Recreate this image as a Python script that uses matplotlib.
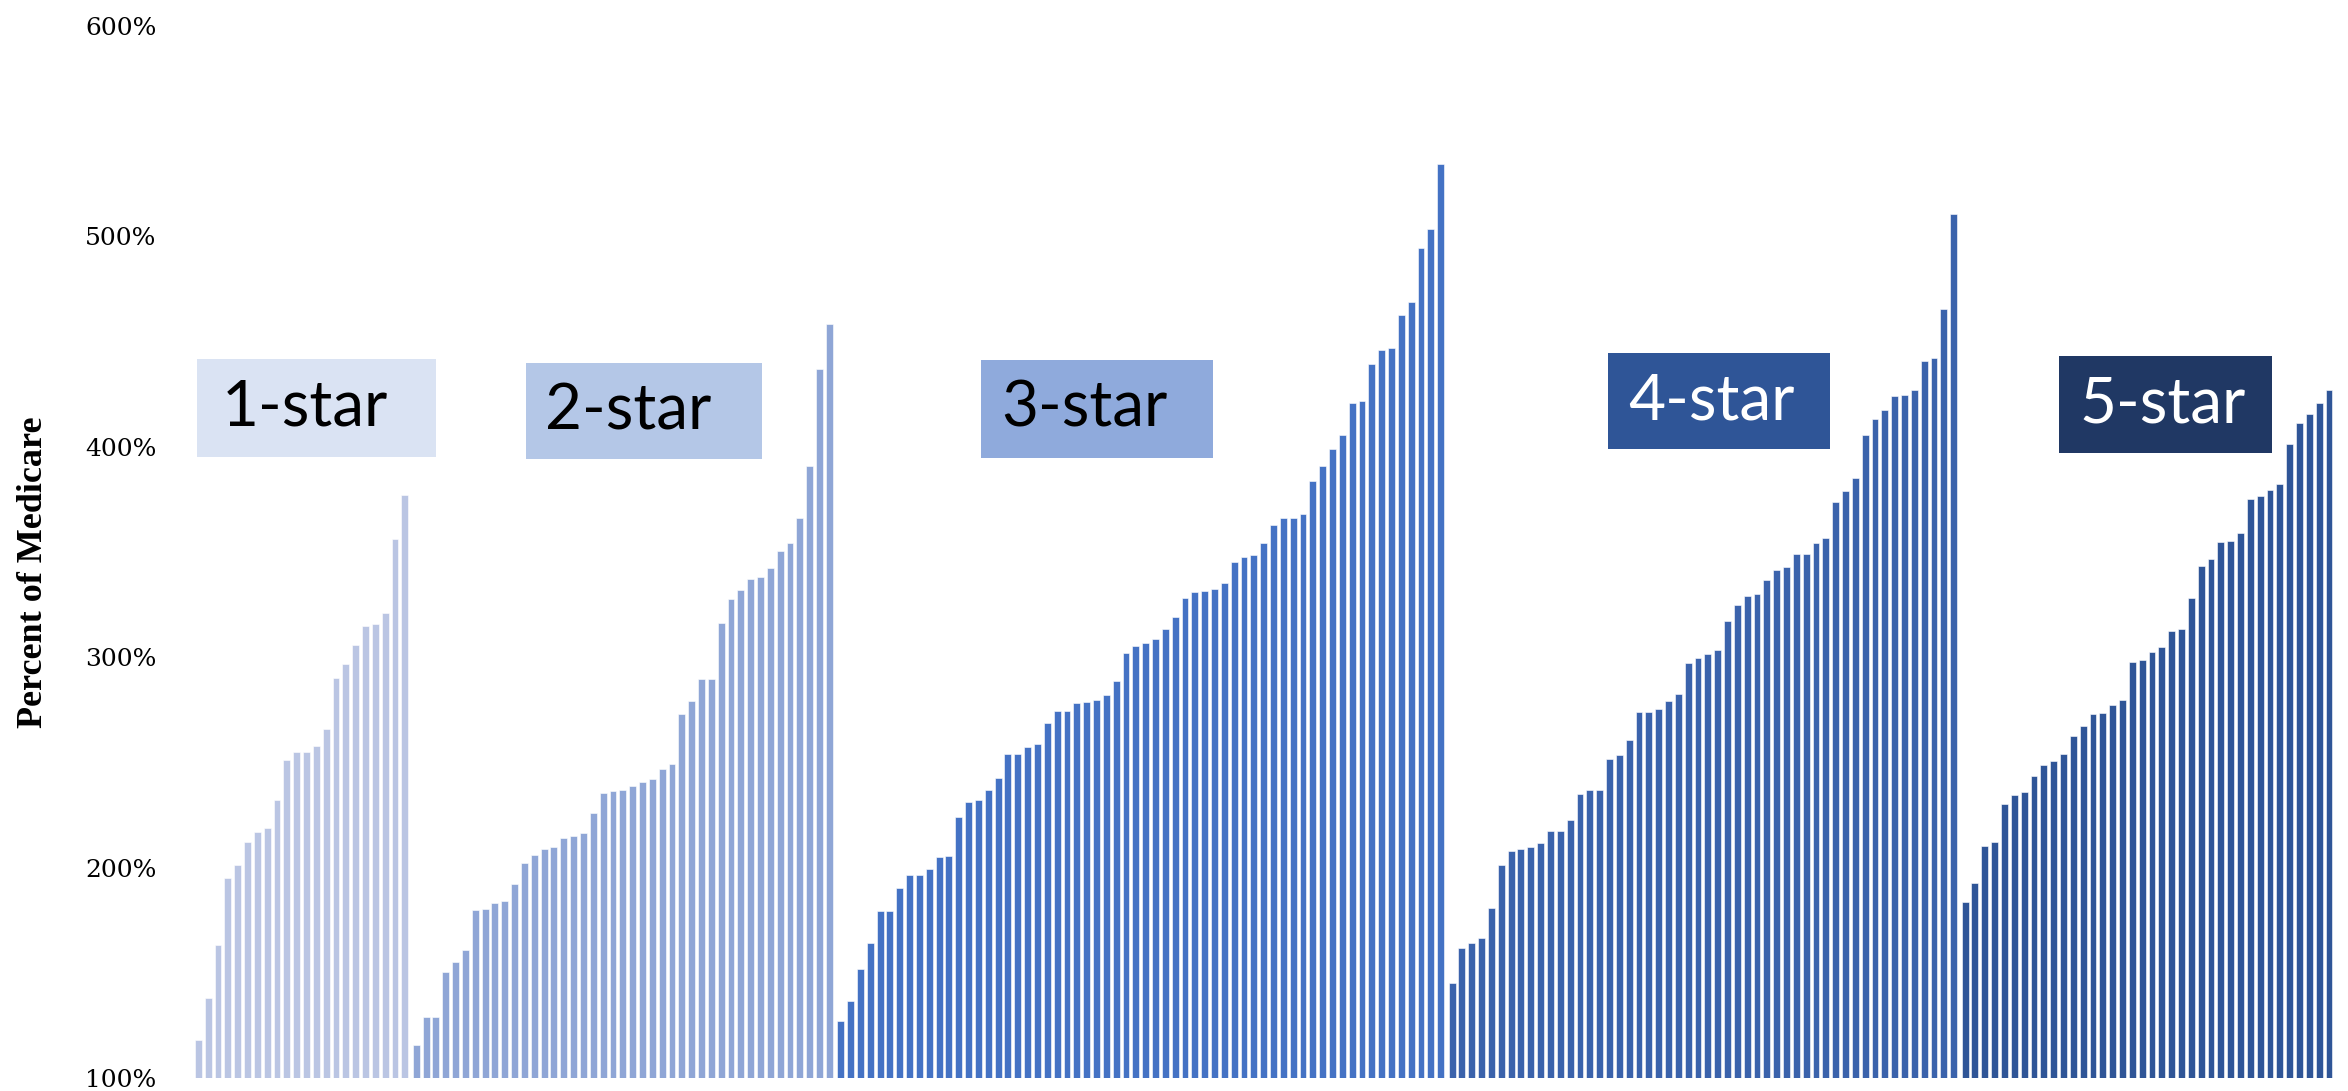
import numpy as np
import matplotlib.pyplot as plt
from matplotlib.patches import Rectangle

# percent of Medicare, sorted within each star rating group
one_star = [118, 138, 163, 195, 201, 212, 217, 219, 232, 251, 255, 255, 258, 266,
            290, 297, 306, 315, 316, 321, 356, 377]
two_star = [115.5, 129, 129, 150.5, 155.3, 161, 179.7, 180.5, 183, 184,
            192.4, 202, 206, 209, 209.7, 214, 215, 216.5, 226, 235.5,
            236.5, 237, 239, 240.6, 242, 247, 249.4, 273, 279, 289.5,
            289.6, 316.1, 327.7, 331.9, 337.2, 338, 342.6, 350.5, 354.3, 366,
            390.9, 437.1, 458.4]
three_star = [127, 136.6, 151.9, 164.3, 179.5, 179.5, 190.5, 196.3, 196.3, 199.1,
              204.9, 205.5, 223.9, 231.4, 232.3, 236.9, 242.4, 254.2, 254.2, 257.1,
              258.8, 268.6, 274.4, 274.4, 278.1, 278.7, 279.8, 282.1, 288.5, 302,
              305.2, 306.9, 308.6, 313.3, 319, 328, 330.8, 331.4, 332.3, 335.2,
              345.2, 347.6, 348.7, 354.5, 362.8, 366, 366.3, 368, 383.9, 391,
              399.1, 405.8, 420.7, 421.9, 439.5, 446.1, 447, 462.5, 468.9, 494.5,
              503.5, 534.3]
four_star = [145.3, 161.6, 164.1, 166.6, 180.6, 201.4, 208, 208.8, 209.9, 211.6,
             217.4, 217.6, 222.6, 235, 236.7, 237, 251.6, 253.3, 260.5, 274,
             274, 275.4, 279, 282.3, 297.2, 299.7, 301.3, 303.3, 317.3, 324.8,
             328.9, 330, 336.7, 341.4, 343, 349.1, 349.1, 354.3, 356.8, 373.7,
             378.9, 385.3, 405.7, 413.2, 417.6, 424.2, 424.5, 427, 440.8, 442.2,
             465.4, 510.7]
five_star = [183.7, 192.5, 210.3, 212.1, 230.1, 234.7, 236.1, 243.7, 248.8, 250.9,
             253.9, 262.4, 267.5, 273, 273.5, 277.4, 279.5, 297.5, 298.6, 302.3,
             304.8, 312.5, 313.2, 327.9, 343.4, 346.6, 354.7, 355.1, 358.8, 375.2,
             376.8, 379.4, 382.1, 401.3, 411.4, 415.6, 420.9, 426.9]

groups = [one_star, two_star, three_star, four_star, five_star]
labels = ['1-star', '2-star', '3-star', '4-star', '5-star']
bar_colors = ['#BAC5E3', '#8FA6D6', '#4472C4', '#3B63AC', '#2F5597']
box_colors = ['#DAE3F3', '#B4C7E7', '#8FAADC', '#2F5597', '#203864']
text_colors = ['black', 'black', 'black', 'white', 'white']
y_ticks = [100, 200, 300, 400, 500, 600]

W, H = 2348, 1091
fig = plt.figure(figsize=(W / 100, H / 100), dpi=100)
ax = fig.add_axes([192.4 / W, 13 / H, (2334.9 - 192.4) / W, (1078 - 26) / H])

gap = 0.16
start = 0
for g, vals in enumerate(groups):
    x = np.arange(start, start + len(vals)) + g * gap
    ax.bar(x, np.array(vals) - 100, bottom=100, width=0.7,
           color=bar_colors[g], edgecolor='white', linewidth=0.4)
    start += len(vals)

ax.set_xlim(-0.6, start - 1 + 4 * gap + 0.6)
ax.set_ylim(100, 600)
ax.set_yticks(y_ticks)
ax.set_yticklabels([f'{t}%' for t in y_ticks], fontfamily='DejaVu Serif', fontsize=18)
ax.tick_params(axis='y', length=0, pad=26)
ax.set_xticks([])
for s in ax.spines.values():
    s.set_visible(False)

fig.text(34 / W, 1 - 572 / H, 'Percent of Medicare', rotation=90,
         ha='center', va='center', fontfamily='Liberation Serif',
         fontweight='bold', fontsize=26)

# label boxes, in pixels: left, top, right, bottom, text left
boxes = [(197, 359, 436, 457, 222),
         (526, 363, 762, 459, 545),
         (981, 360, 1213, 458, 1001),
         (1608, 353, 1830, 449, 1628),
         (2059, 356, 2272, 453, 2079)]
for (l, t, r, b, tx), lab, bc, tc in zip(boxes, labels, box_colors, text_colors):
    fig.add_artist(Rectangle((l / W, 1 - b / H), (r - l) / W, (b - t) / H,
                             transform=fig.transFigure, facecolor=bc,
                             edgecolor='none', zorder=3))
    fig.text(tx / W, 1 - (t + b) / 2 / H, lab, ha='left', va='center',
             fontfamily='Lato', fontweight='normal', fontsize=46, color=tc,
             zorder=4)

fig.savefig('out.png', dpi=100, facecolor='white')
